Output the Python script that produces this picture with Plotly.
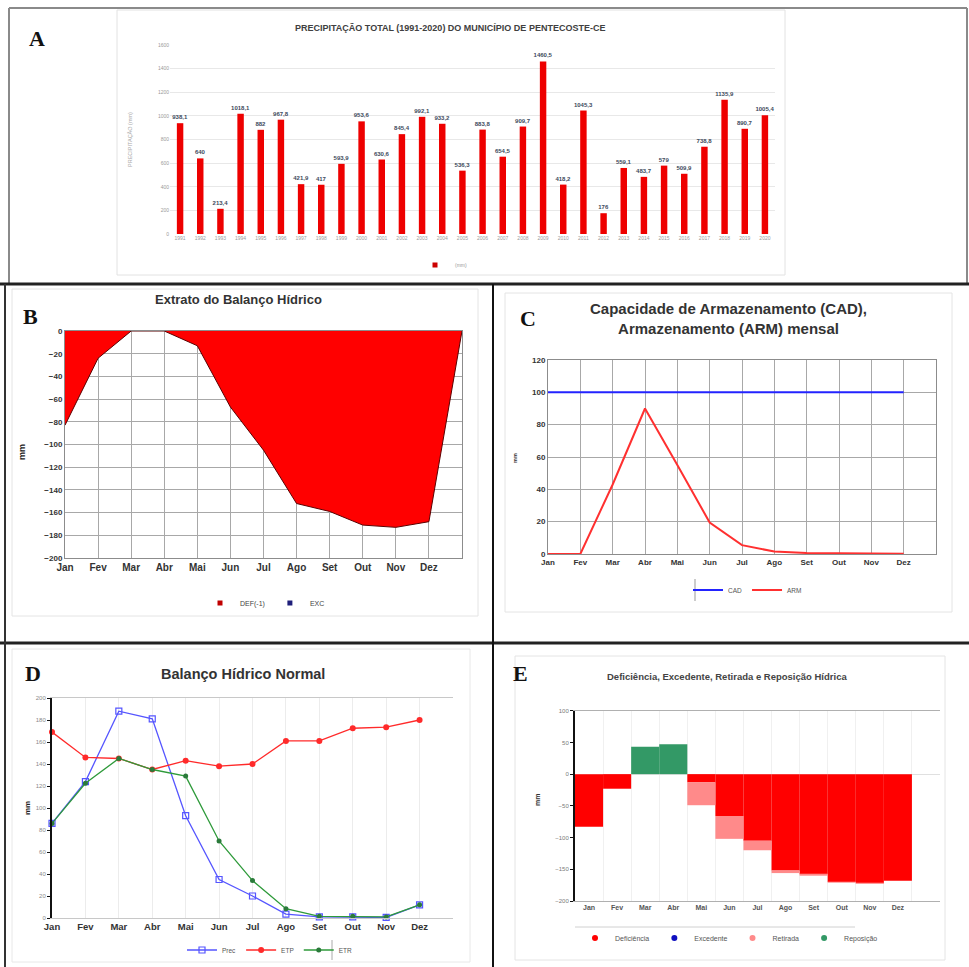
import plotly.graph_objects as go

W, H = 969, 967


def px(x):
    return x / W


def py(y):
    return 1 - y / H


# ---------------- data ----------------
years = ["1991", "1992", "1993", "1994", "1995", "1996", "1997", "1998", "1999", "2000",
         "2001", "2002", "2003", "2004", "2005", "2006", "2007", "2008", "2009", "2010",
         "2011", "2012", "2013", "2014", "2015", "2016", "2017", "2018", "2019", "2020"]
precip_total = [938.1, 640, 213.4, 1018.1, 882, 967.8, 421.9, 417, 593.9, 953.6,
                630.6, 845.4, 992.1, 933.2, 536.3, 883.8, 654.5, 909.7, 1460.5, 418.2,
                1045.3, 176, 559.1, 483.7, 579, 509.9, 738.8, 1135.9, 890.7, 1005.4]

months = ["Jan", "Fev", "Mar", "Abr", "Mai", "Jun", "Jul", "Ago", "Set", "Out", "Nov", "Dez"]
month_pos = [0, 1, 2, 3, 4, 5, 6, 7, 8, 9, 10, 11]

# Extrato (panel B) - includes closing point after Dez
extrato_pos = [0, 1, 2, 3, 4, 5, 6, 7, 8, 9, 10, 11, 12]
extrato_def = [-83, -24, 0, 0, -13, -67, -105, -152, -159, -171, -173, -168, 0]
extrato_exc = [0, 0, 0, 0, 0, 0, 0, 0, 0, 0, 0, 0, 0]

# Panel C
cad = [100, 100, 100, 100, 100, 100, 100, 100, 100, 100, 100, 100]
arm = [0, 0, 43, 90, 55, 19.5, 5.5, 1.5, 0.6, 0.3, 0.1, 0.1]

# Panel D
prec = [86, 124, 188, 181, 93, 35, 20, 3.5, 1, 1, 0.5, 12]
etp = [169, 146, 145, 135, 143, 138, 140, 161, 161, 172.5, 173.5, 180]
etr = [86, 122.5, 145, 135, 129, 70, 34, 8.5, 1.5, 1.5, 1, 12]

# Panel E
deficiencia = [-83, -23, 0, 0, -13, -66, -105, -152, -158, -170, -172, -168]
excedente = [0, 0, 0, 0, 0, 0, 0, 0, 0, 0, 0, 0]
retirada = [0, 0, 0, 0, -36, -36, -15, -4, -1, -0.5, -0.2, 0]
reposicao = [0, 0, 43, 47, 0, 0, 0, 0, 0, 0, 0, 0]

FONT = "Liberation Sans"
SERIF = "Liberation Serif"

fig = go.Figure()


def legend_marker(name, color, legend, symbol="square", size=6):
    # legend-only entry, placed on a numeric axis so it never adds a category
    fig.add_trace(go.Scatter(x=[None], y=[None], mode="markers", name=name,
                             marker=dict(symbol=symbol, size=size, color=color),
                             xaxis="x2", yaxis="y2", legend=legend, hoverinfo="skip"))


# ---------------- Panel A ----------------
labels = [f"{v:g}".replace(".", ",") for v in precip_total]
fig.add_trace(go.Bar(
    x=years, y=precip_total, name="(mm)", marker=dict(color="#ee0000", line=dict(width=0)),
    width=0.32, text=labels, textposition="outside", cliponaxis=False, constraintext="none",
    textfont=dict(size=6, color="#3d4a5c", family=FONT, weight="bold"),
    xaxis="x", yaxis="y", showlegend=False))
legend_marker("(mm)", "#cc0000", "legend", size=5)

# ---------------- Panel B ----------------
fig.add_trace(go.Scatter(
    x=extrato_pos, y=extrato_def, name="DEF(-1)", mode="lines", fill="tozeroy",
    fillcolor="#ff0000", line=dict(color="#5a0000", width=1),
    xaxis="x2", yaxis="y2", showlegend=False))
fig.add_trace(go.Scatter(
    x=extrato_pos, y=extrato_exc, name="EXC", mode="lines", fill="tozeroy",
    fillcolor="#1f1f7a", line=dict(color="#1f1f7a", width=0),
    xaxis="x2", yaxis="y2", showlegend=False))
legend_marker("DEF(-1)", "#c00000", "legend2", size=5)
legend_marker("EXC", "#1f1f7a", "legend2", size=5)

# ---------------- Panel C ----------------
fig.add_trace(go.Scatter(
    x=month_pos, y=cad, name="CAD", mode="lines", line=dict(color="#2323ff", width=2),
    xaxis="x3", yaxis="y3", legend="legend3"))
fig.add_trace(go.Scatter(
    x=month_pos, y=arm, name="ARM", mode="lines", line=dict(color="#ff3030", width=2),
    xaxis="x3", yaxis="y3", legend="legend3"))

# ---------------- Panel D ----------------
fig.add_trace(go.Scatter(
    x=month_pos, y=prec, name="Prec", mode="lines+markers",
    line=dict(color="#5555ff", width=1.3),
    marker=dict(symbol="square-open", size=6, color="#5555ff", line=dict(width=1.2)),
    cliponaxis=False, xaxis="x4", yaxis="y4", legend="legend4"))
fig.add_trace(go.Scatter(
    x=month_pos, y=etp, name="ETP", mode="lines+markers",
    line=dict(color="#ff2a2a", width=1.3),
    marker=dict(symbol="circle", size=6, color="#ff2a2a"),
    cliponaxis=False, xaxis="x4", yaxis="y4", legend="legend4"))
fig.add_trace(go.Scatter(
    x=month_pos, y=etr, name="ETR", mode="lines+markers",
    line=dict(color="#2e9a3a", width=1.3),
    marker=dict(symbol="circle", size=5, color="#2a7a3a"),
    cliponaxis=False, xaxis="x4", yaxis="y4", legend="legend4"))

# ---------------- Panel E ----------------
for name, vals, col in [("Deficiência", deficiencia, "#ff0000"),
                        ("Excedente", excedente, "#1010c0"),
                        ("Retirada", retirada, "#ff8a8a"),
                        ("Reposição", reposicao, "#339966")]:
    fig.add_trace(go.Bar(
        x=month_pos, y=vals, name=name, width=1.0,
        marker=dict(color=col, line=dict(width=0)),
        xaxis="x5", yaxis="y5", showlegend=False))
    legend_marker(name, col, "legend5", symbol="circle", size=6)

# ---------------- axes ----------------
grid_b = "#a8a8a8"
fig.update_layout(
    width=W, height=H, margin=dict(l=0, r=0, t=0, b=0, autoexpand=False),
    paper_bgcolor="white", plot_bgcolor="white",
    barmode="relative", font=dict(family=FONT),
    showlegend=True,
    # A
    xaxis=dict(domain=[px(170), px(775)], type="category", categoryorder="array",
               categoryarray=years, range=[-0.5, 29.5], anchor="y", automargin=False,
               tickfont=dict(size=5, color="#9a9a9a"), showgrid=False, showline=False,
               ticks=""),
    yaxis=dict(domain=[py(234), py(45)], range=[0, 1600], dtick=200, tickformat="d",
               anchor="x", automargin=False,
               tickfont=dict(size=5, color="#9a9a9a"), gridcolor="#e8e8e8",
               zeroline=False, showline=False, ticks=""),
    # B
    xaxis2=dict(domain=[px(65), px(462)], range=[0, 12], tickvals=month_pos, ticktext=months,
                anchor="y2", automargin=False,
                tickfont=dict(size=10, color="#333333", weight="bold"),
                showgrid=True, gridcolor=grid_b, gridwidth=1,
                showline=True, mirror=True, linecolor="#8c8c8c", linewidth=1,
                zeroline=False, ticks=""),
    yaxis2=dict(domain=[py(558), py(331)], range=[-200, 0], dtick=20, anchor="x2",
                automargin=False,
                tickfont=dict(size=8, color="#333333", weight="bold"),
                showgrid=True, gridcolor=grid_b, gridwidth=1,
                showline=True, mirror=True, linecolor="#8c8c8c", linewidth=1,
                zeroline=False, ticks=""),
    # C
    xaxis3=dict(domain=[px(548), px(936)], range=[0, 12], tickvals=month_pos, ticktext=months,
                anchor="y3", automargin=False,
                tickfont=dict(size=8, color="#333333", weight="bold"),
                showgrid=True, gridcolor=grid_b, showline=True, mirror=True,
                linecolor="#8c8c8c", zeroline=False, ticks=""),
    yaxis3=dict(domain=[py(554), py(360)], range=[0, 120], dtick=20, anchor="x3",
                automargin=False,
                tickfont=dict(size=8, color="#333333", weight="bold"),
                showgrid=True, gridcolor=grid_b, showline=True, mirror=True,
                linecolor="#8c8c8c", zeroline=False, ticks=""),
    # D
    xaxis4=dict(domain=[px(52), px(453)], range=[0, 12], tickvals=month_pos, ticktext=months,
                anchor="y4", automargin=False,
                tickfont=dict(size=9.5, color="#333333", weight="bold"),
                showgrid=True, gridcolor="#ececec", showline=True, mirror=True,
                linecolor="#c8c8c8", zeroline=False, ticks=""),
    yaxis4=dict(domain=[py(918), py(698)], range=[0, 200], dtick=20, anchor="x4",
                automargin=False,
                tickfont=dict(size=6, color="#8a8a8a"), showgrid=False,
                showline=True, linecolor="#111111", linewidth=2, zeroline=False,
                ticks="outside", ticklen=3, tickcolor="#111111"),
    # E
    xaxis5=dict(domain=[px(575), px(940)], range=[-0.5, 12.5], tickvals=month_pos,
                ticktext=months, anchor="y5", automargin=False,
                tickfont=dict(size=7, color="#555555", weight="bold"),
                showgrid=False, showline=True, mirror=True, linecolor="#b0b0b0",
                zeroline=False, ticks="",
                minor=dict(tickvals=[-0.5, 0.5, 1.5, 2.5, 3.5, 4.5, 5.5, 6.5, 7.5, 8.5,
                                     9.5, 10.5, 11.5],
                           showgrid=True, gridcolor="#f0f0f0", ticks="")),
    yaxis5=dict(domain=[py(901), py(710.7)], range=[-200, 100], dtick=50, anchor="x5",
                automargin=False,
                tickfont=dict(size=6, color="#7a7a7a"), showgrid=False,
                showline=True, linecolor="#111111", linewidth=2,
                zeroline=True, zerolinecolor="#e0e0e0", zerolinewidth=1,
                ticks="outside", ticklen=3, tickcolor="#111111"),
)

# ---------------- legends ----------------
def leg(x, y, size, color="#555555"):
    return dict(x=px(x), y=py(y), xanchor="left", yanchor="middle", orientation="h",
                font=dict(size=size, color=color, family=FONT), bgcolor="rgba(0,0,0,0)",
                traceorder="normal", itemwidth=30, tracegroupgap=0)


fig.update_layout(
    legend=leg(415, 265, 5, "#999999"),
    legend2=leg(200, 603, 7, "#444444"),
    legend3=leg(688, 590, 6.5, "#555555"),
    legend4=leg(182, 950, 6.5, "#555555"),
    legend5=leg(575, 938, 7, "#555555"),
)

# ---------------- annotations ----------------
ann = []


def text(x, y, s, size, color="#333333", family=FONT, angle=0, xanchor="center"):
    ann.append(dict(x=px(x), y=py(y), xref="paper", yref="paper", text=s, showarrow=False,
                    font=dict(size=size, color=color, family=family), textangle=angle,
                    xanchor=xanchor, yanchor="middle"))


text(450, 28, "<b>PRECIPITAÇÃO TOTAL (1991-2020) DO MUNICÍPIO DE PENTECOSTE-CE</b>", 9, "#404040")
text(130, 140, "PRECIPITAÇÃO (mm)", 5.5, "#aaaaaa", angle=-90)
text(238, 300, "<b>Extrato do Balanço Hídrico</b>", 13, "#333333")
text(22, 452, "<b>mm</b>", 9, "#222222", angle=-90)
text(728, 318, "<b>Capacidade de Armazenamento (CAD),<br>Armazenamento (ARM) mensal</b>", 15, "#333333")
text(515, 458, "<b>mm</b>", 5.5, "#333333", angle=-90)
text(243, 674, "<b>Balanço Hídrico Normal</b>", 14.5, "#333333")
text(27, 808, "<b>mm</b>", 8, "#222222", angle=-90)
text(727, 676, "<b>Deficiência, Excedente, Retirada e Reposição Hídrica</b>", 9.5, "#444444")
text(537, 800, "<b>mm</b>", 7, "#333333", angle=-90)

# panel letters
text(37, 38, "<b>A</b>", 22, "#111111", SERIF)
text(30, 316, "<b>B</b>", 22, "#111111", SERIF)
text(528, 318, "<b>C</b>", 22, "#111111", SERIF)
text(33, 673, "<b>D</b>", 22, "#111111", SERIF)
text(520, 673, "<b>E</b>", 22, "#111111", SERIF)

fig.update_layout(annotations=ann)

# ---------------- frames / separators ----------------
shapes = []


def rect(x0, y0, x1, y1, color, width):
    shapes.append(dict(type="rect", xref="paper", yref="paper", x0=px(x0), y0=py(y1),
                       x1=px(x1), y1=py(y0), line=dict(color=color, width=width),
                       fillcolor="rgba(0,0,0,0)", layer="below"))


def line(x0, y0, x1, y1, color, width):
    shapes.append(dict(type="line", xref="paper", yref="paper", x0=px(x0), y0=py(y0),
                       x1=px(x1), y1=py(y1), line=dict(color=color, width=width)))


# light chart frames
rect(117, 10, 785, 275, "#e2e2e2", 1)
rect(12, 289, 478, 616, "#e4e4e4", 1)
rect(505, 293, 952, 612, "#e4e4e4", 1)
rect(12, 649, 470, 962, "#e8e8e8", 1)
rect(515, 656, 945, 960, "#e4e4e4", 1)
# legend box hints
line(695, 579, 695, 601, "#999999", 1)
line(332, 940, 332, 960, "#aaaaaa", 1)
line(575, 927, 855, 927, "#d0d0d0", 1)

# panel separators
line(9, 8, 967, 8, "#8a8a8a", 2)
line(9, 8, 9, 284, "#8a8a8a", 2)
line(967, 8, 967, 284, "#8a8a8a", 2)
line(0, 284, 969, 284, "#222222", 3)
line(0, 643, 969, 643, "#222222", 3)
line(493, 284, 493, 967, "#111111", 2)
line(5, 284, 5, 967, "#333333", 2)

fig.update_layout(shapes=shapes)

fig.write_html(
    "out.html",
    config={"displayModeBar": False},
    post_script="document.body.style.margin='0';document.body.style.padding='0';"
                "document.documentElement.style.overflow='hidden';",
)
